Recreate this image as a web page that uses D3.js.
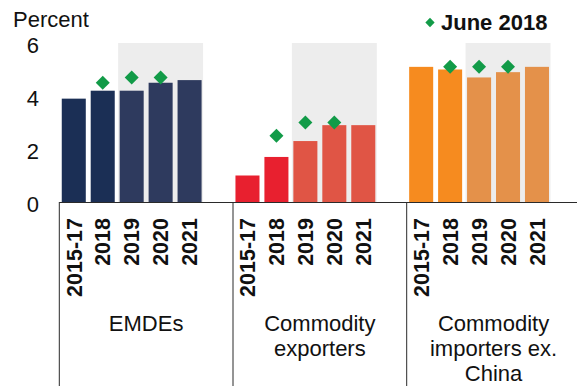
<!DOCTYPE html>
<html>
<head>
<meta charset="utf-8">
<script src="https://cdn.jsdelivr.net/npm/d3@7"></script>
<style>
  html, body { margin: 0; padding: 0; background: #fff; }
  svg { display: block; font-family: "Liberation Sans", Arial, sans-serif; }
</style>
</head>
<body>
<svg id="chart" width="577" height="386"></svg>
<script>
// Real GDP growth by country group: outturn/forecast bars and the June 2018 forecasts
const periods = ["2015-17", "2018", "2019", "2020", "2021"];
const groupNames = ["EMDEs", "Commodity exporters", "Commodity importers ex. China"];
const groupLabelLines = [["EMDEs"], ["Commodity", "exporters"], ["Commodity", "importers ex.", "China"]];
const emdes = [3.9, 4.2, 4.2, 4.5, 4.6];
const exporters = [1.0, 1.7, 2.3, 2.9, 2.9];
const importers = [5.1, 5.0, 4.7, 4.9, 5.1];
const juneEmdes = [null, 4.5, 4.7, 4.7, null];
const juneExporters = [null, 2.5, 3.0, 3.0, null];
const juneImporters = [null, 5.1, 5.1, 5.1, null];
const forecastPeriods = ["2019", "2020", "2021"];
const yTicks = [0, 2, 4, 6];
const legendLabel = "June 2018";
const yTitle = "Percent";

// colours: [actual/estimate, forecast]
const groupColors = [
  ["#1b2f55", "#2e3a5e"],
  ["#e8202f", "#e05545"],
  ["#f68b1f", "#e4914a"]
];
const diamondColor = "#129b48";
const shadeColor = "#ededed";
const lineColor = "#2a2a2a";

const seriesValues = [emdes, exporters, importers];
const juneValues = [juneEmdes, juneExporters, juneImporters];

const rows = [];
groupNames.forEach((g, gi) => {
  periods.forEach((p, pi) => {
    rows.push({ key: gi + "|" + p, group: gi, period: p, value: seriesValues[gi][pi], june: juneValues[gi][pi] });
  });
});

// one band per bar plus a spacer slot after each group
const slotKeys = [];
groupNames.forEach((g, gi) => {
  periods.forEach(p => slotKeys.push(gi + "|" + p));
  slotKeys.push(gi + "|gap");
});

const svg = d3.select("#chart");
const x = d3.scaleBand().domain(slotKeys).range([59.3, 580.4]).paddingInner(0.17).paddingOuter(0.085);
const y = d3.scaleLinear().domain([0, 6]).range([202, 43]);
const step = x.step();
const bw = x.bandwidth();
const groupStart = gi => x(gi + "|" + periods[0]) - step * 0.085;

// shaded forecast window
groupNames.forEach((g, gi) => {
  const x0 = x(gi + "|" + forecastPeriods[0]) - 1.5;
  const x1 = x(gi + "|" + forecastPeriods[forecastPeriods.length - 1]) + bw + 1.5;
  svg.append("rect")
    .attr("x", x0).attr("y", y(6))
    .attr("width", x1 - x0).attr("height", y(0) - y(6))
    .attr("fill", shadeColor);
});

// baseline
svg.append("line")
  .attr("x1", x.range()[0]).attr("x2", 577)
  .attr("y1", y(0) + 0.5).attr("y2", y(0) + 0.5)
  .attr("stroke", lineColor).attr("stroke-width", 1);

// bars
svg.append("g").selectAll("rect").data(rows).join("rect")
  .attr("x", d => x(d.key))
  .attr("y", d => y(d.value))
  .attr("width", bw)
  .attr("height", d => y(0) - y(d.value))
  .attr("fill", d => groupColors[d.group][forecastPeriods.includes(d.period) ? 1 : 0]);

// June 2018 forecast diamonds
const diamond = d3.symbol().type(d3.symbolDiamond2).size(125);
svg.append("g").selectAll("path").data(rows.filter(d => d.june != null)).join("path")
  .attr("d", diamond)
  .attr("transform", d => `translate(${x(d.key) + bw / 2},${y(d.june)})`)
  .attr("fill", diamondColor);

// y axis labels (no axis line)
const yAxis = d3.axisLeft(y).tickValues(yTicks).tickFormat(d3.format("d")).tickSize(0).tickPadding(0);
const yg = svg.append("g").attr("transform", "translate(39,2)").call(yAxis);
yg.select(".domain").remove();
yg.selectAll("text")
  .attr("font-family", "Liberation Sans, Arial, sans-serif")
  .attr("font-size", 22).attr("fill", "#111");

svg.append("text")
  .attr("x", 13).attr("y", 27)
  .attr("font-size", 22).attr("fill", "#111")
  .text(yTitle);

// period labels, rotated
svg.append("g").selectAll("text").data(rows).join("text")
  .attr("transform", d => `translate(${x(d.key) + bw / 2},218) rotate(-90)`)
  .attr("text-anchor", "end")
  .attr("dy", "0.36em")
  .attr("font-size", 21.5).attr("font-weight", "bold").attr("fill", "#111")
  .text(d => d.period);

// group separators
groupNames.forEach((g, gi) => {
  const sx = groupStart(gi);
  svg.append("line")
    .attr("x1", sx).attr("x2", sx)
    .attr("y1", y(0)).attr("y2", 386)
    .attr("stroke", lineColor).attr("stroke-width", 1);
});

// group labels
groupNames.forEach((g, gi) => {
  const cx = groupStart(gi) + step * 3;
  const t = svg.append("text")
    .attr("x", cx).attr("y", 331)
    .attr("text-anchor", "middle")
    .attr("font-size", 22).attr("fill", "#111");
  groupLabelLines[gi].forEach((line, li) => {
    t.append("tspan").attr("x", cx).attr("dy", li === 0 ? 0 : 25).text(line);
  });
});

// legend
const legend = svg.append("g");
legend.append("path")
  .attr("d", d3.symbol().type(d3.symbolDiamond2).size(55))
  .attr("transform", "translate(430,22.5)")
  .attr("fill", diamondColor);
legend.append("text")
  .attr("x", 441).attr("y", 30)
  .attr("font-size", 22).attr("font-weight", "bold").attr("fill", "#111")
  .text(legendLabel);
</script>
</body>
</html>
